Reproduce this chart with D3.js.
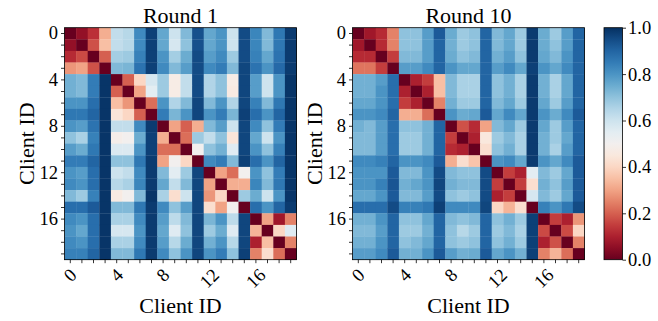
<!DOCTYPE html>
<html>
<head>
<meta charset="utf-8">
<script src="https://cdn.jsdelivr.net/npm/d3@7"></script>
<style>
  body { margin: 0; background: #fff; }
  svg { display: block; }
  svg text { font-family: "Times New Roman", "Liberation Serif", serif; }
</style>
</head>
<body>
<div id="container"></div>
<script>
let clientIds = d3.range(20)
let labelledIds = [0, 4, 8, 12, 16]
let barTicks = [0, 0.2, 0.4, 0.6, 0.8, 1.0]
let titles = ["Round 1", "Round 10"]

let round1 = [
  [0.00,0.06,0.13,0.32,0.62,0.64,0.82,0.97,0.76,0.60,0.72,0.94,0.76,0.80,0.60,0.95,0.83,0.72,0.86,0.98],
  [0.06,0.00,0.18,0.35,0.62,0.64,0.82,0.97,0.76,0.58,0.70,0.94,0.76,0.80,0.60,0.95,0.83,0.72,0.86,0.98],
  [0.12,0.17,0.00,0.20,0.67,0.68,0.84,0.97,0.80,0.67,0.75,0.95,0.78,0.82,0.68,0.95,0.84,0.76,0.87,0.98],
  [0.28,0.30,0.18,0.00,0.72,0.73,0.87,0.97,0.82,0.72,0.78,0.95,0.82,0.85,0.72,0.96,0.87,0.80,0.89,0.98],
  [0.74,0.72,0.85,0.99,0.00,0.20,0.40,0.58,0.68,0.47,0.62,0.95,0.65,0.70,0.47,0.96,0.78,0.60,0.80,0.99],
  [0.74,0.72,0.85,0.99,0.20,0.00,0.30,0.55,0.68,0.47,0.62,0.95,0.65,0.70,0.46,0.96,0.78,0.60,0.80,0.99],
  [0.80,0.80,0.88,0.99,0.35,0.28,0.00,0.22,0.80,0.65,0.72,0.96,0.72,0.80,0.65,0.96,0.84,0.72,0.86,0.99],
  [0.86,0.86,0.90,0.99,0.44,0.40,0.20,0.00,0.85,0.73,0.80,0.96,0.80,0.85,0.73,0.97,0.88,0.80,0.90,0.99],
  [0.80,0.78,0.87,0.99,0.62,0.62,0.82,0.98,0.00,0.30,0.20,0.32,0.72,0.78,0.60,0.96,0.82,0.70,0.85,0.99],
  [0.70,0.66,0.84,0.99,0.48,0.50,0.75,0.97,0.32,0.00,0.22,0.68,0.62,0.70,0.44,0.96,0.76,0.60,0.80,0.99],
  [0.78,0.75,0.86,0.99,0.57,0.57,0.80,0.97,0.22,0.22,0.00,0.50,0.70,0.74,0.56,0.96,0.80,0.70,0.84,0.99],
  [0.85,0.85,0.90,0.99,0.70,0.70,0.86,0.98,0.30,0.50,0.40,0.00,0.82,0.85,0.72,0.97,0.88,0.80,0.90,0.99],
  [0.80,0.78,0.88,0.99,0.60,0.62,0.82,0.98,0.72,0.55,0.68,0.96,0.00,0.30,0.22,0.50,0.80,0.70,0.85,0.99],
  [0.82,0.80,0.88,0.99,0.64,0.66,0.83,0.98,0.76,0.62,0.72,0.96,0.30,0.00,0.32,0.32,0.83,0.72,0.86,0.99],
  [0.72,0.68,0.84,0.99,0.46,0.50,0.72,0.99,0.66,0.42,0.60,0.96,0.28,0.40,0.00,0.68,0.75,0.60,0.80,0.99],
  [0.88,0.88,0.92,0.99,0.72,0.72,0.86,0.98,0.82,0.70,0.78,0.96,0.42,0.30,0.50,0.00,0.88,0.80,0.90,0.98],
  [0.82,0.80,0.88,0.99,0.66,0.66,0.82,0.98,0.78,0.63,0.72,0.96,0.73,0.80,0.63,0.96,0.00,0.30,0.08,0.25],
  [0.80,0.76,0.88,0.99,0.58,0.58,0.80,0.98,0.76,0.56,0.70,0.96,0.68,0.75,0.56,0.96,0.33,0.00,0.40,0.56],
  [0.82,0.80,0.88,0.99,0.66,0.66,0.82,0.98,0.78,0.64,0.75,0.96,0.74,0.80,0.64,0.96,0.10,0.35,0.00,0.25],
  [0.84,0.84,0.90,0.99,0.72,0.72,0.86,0.98,0.82,0.70,0.80,0.96,0.80,0.85,0.70,0.97,0.25,0.42,0.22,0.00]
]

let round10 = [
  [0.00,0.08,0.12,0.25,0.70,0.70,0.78,0.92,0.75,0.68,0.70,0.90,0.72,0.76,0.68,0.98,0.75,0.68,0.78,0.90],
  [0.08,0.00,0.12,0.25,0.70,0.70,0.78,0.90,0.74,0.68,0.70,0.90,0.72,0.76,0.68,0.98,0.75,0.70,0.78,0.90],
  [0.12,0.12,0.00,0.15,0.72,0.72,0.78,0.90,0.75,0.70,0.72,0.90,0.74,0.78,0.70,0.98,0.76,0.72,0.80,0.90],
  [0.23,0.23,0.15,0.00,0.78,0.78,0.82,0.90,0.80,0.76,0.76,0.90,0.78,0.82,0.76,0.97,0.80,0.76,0.82,0.90],
  [0.74,0.74,0.78,0.88,0.00,0.10,0.15,0.35,0.72,0.66,0.66,0.90,0.70,0.74,0.66,0.98,0.74,0.66,0.76,0.90],
  [0.74,0.74,0.80,0.88,0.10,0.00,0.10,0.35,0.72,0.66,0.66,0.90,0.70,0.74,0.66,0.98,0.74,0.66,0.76,0.90],
  [0.76,0.76,0.80,0.88,0.15,0.10,0.00,0.25,0.74,0.68,0.68,0.90,0.72,0.76,0.68,0.98,0.76,0.68,0.78,0.90],
  [0.80,0.80,0.82,0.90,0.32,0.32,0.22,0.00,0.80,0.75,0.76,0.92,0.76,0.82,0.76,0.98,0.80,0.75,0.82,0.92],
  [0.74,0.72,0.78,0.88,0.70,0.70,0.74,0.90,0.00,0.18,0.12,0.30,0.72,0.76,0.68,0.98,0.76,0.68,0.78,0.90],
  [0.72,0.72,0.78,0.88,0.68,0.68,0.74,0.90,0.15,0.00,0.10,0.45,0.68,0.72,0.66,0.98,0.74,0.68,0.76,0.90],
  [0.72,0.72,0.78,0.88,0.68,0.68,0.74,0.90,0.12,0.10,0.00,0.42,0.70,0.74,0.66,0.98,0.74,0.66,0.78,0.90],
  [0.82,0.82,0.84,0.90,0.80,0.80,0.82,0.92,0.32,0.42,0.36,0.00,0.80,0.82,0.76,0.98,0.80,0.76,0.82,0.92],
  [0.80,0.80,0.80,0.92,0.72,0.72,0.80,0.95,0.72,0.70,0.70,0.95,0.00,0.15,0.10,0.55,0.72,0.68,0.76,0.92],
  [0.80,0.80,0.84,0.93,0.74,0.76,0.80,0.96,0.74,0.72,0.72,0.95,0.15,0.00,0.15,0.42,0.74,0.70,0.78,0.92],
  [0.76,0.76,0.80,0.92,0.72,0.72,0.78,0.95,0.70,0.68,0.70,0.95,0.10,0.15,0.00,0.58,0.72,0.68,0.76,0.92],
  [0.88,0.88,0.88,0.95,0.84,0.84,0.86,0.97,0.82,0.82,0.82,0.96,0.40,0.33,0.42,0.00,0.84,0.80,0.86,0.95],
  [0.74,0.74,0.80,0.90,0.70,0.70,0.76,0.90,0.72,0.70,0.72,0.90,0.70,0.74,0.68,0.97,0.00,0.15,0.10,0.28],
  [0.72,0.72,0.78,0.90,0.68,0.68,0.74,0.90,0.70,0.64,0.68,0.90,0.68,0.72,0.66,0.97,0.17,0.00,0.17,0.40],
  [0.74,0.74,0.80,0.90,0.70,0.72,0.76,0.90,0.70,0.68,0.70,0.90,0.70,0.74,0.68,0.97,0.10,0.18,0.00,0.25],
  [0.78,0.78,0.82,0.92,0.74,0.74,0.80,0.92,0.78,0.74,0.75,0.92,0.76,0.80,0.74,0.97,0.25,0.33,0.22,0.00]
]

let W = 658, H = 321
let size = 232
let topY = 27.7
let lefts = [64.5, 352.5]
let font = "Times New Roman, Liberation Serif, serif"
let tickFont = 18.5

let svg = d3.select("#container").append("svg")
    .attr("width", W)
    .attr("height", H)
    .attr("font-family", font)

let color = d3.scaleSequential(d3.interpolateRdBu).domain([0, 1])

let x = d3.scaleBand().domain(clientIds).range([0, size])
let y = d3.scaleBand().domain(clientIds).range([0, size])

function fmt(d) { return labelledIds.includes(d) ? d : "" }

function heatmap(matrix, left, title) {
    let g = svg.append("g").attr("transform", `translate(${left},${topY})`)

    let cells = []
    matrix.forEach((row, i) => row.forEach((v, j) => cells.push({ r: i, c: j, v: v })))

    g.selectAll("rect.cell")
        .data(cells)
        .join("rect")
        .attr("class", "cell")
        .attr("x", d => x(d.c))
        .attr("y", d => y(d.r))
        .attr("width", x.bandwidth() + 0.3)
        .attr("height", y.bandwidth() + 0.3)
        .attr("fill", d => color(d.v))

    g.append("rect")
        .attr("width", size)
        .attr("height", size)
        .attr("fill", "none")
        .attr("stroke", "#000")
        .attr("stroke-width", 0.8)

    let ya = g.append("g")
        .call(d3.axisLeft(y).tickValues(clientIds).tickFormat(fmt).tickSize(3.5).tickPadding(3))
        .attr("font-family", font)
        .attr("font-size", tickFont)
    ya.select(".domain").remove()
    ya.selectAll("line").attr("stroke-width", 0.8)
    ya.selectAll("text").attr("fill", "#000")

    let xa = g.append("g")
        .attr("transform", `translate(0,${size})`)
        .call(d3.axisBottom(x).tickValues(clientIds).tickFormat(fmt).tickSize(3.5))
        .attr("font-family", font)
        .attr("font-size", tickFont)
    xa.select(".domain").remove()
    xa.selectAll("line").attr("stroke-width", 0.8)
    xa.selectAll("text")
        .attr("fill", "#000")
        .attr("text-anchor", "middle")
        .attr("dominant-baseline", "central")
        .attr("dy", null)
        .each(function () {
            let t = d3.select(this)
            let w = this.getComputedTextLength()
            let half = (w + 12) * Math.SQRT1_2 / 2
            t.attr("y", 0).attr("transform", `translate(0,${8 + half}) rotate(-45)`)
        })

    g.append("text")
        .text(title)
        .attr("x", size / 2)
        .attr("y", -5)
        .attr("text-anchor", "middle")
        .attr("font-size", 22)

    g.append("text")
        .text("Client ID")
        .attr("x", size / 2)
        .attr("y", size + 53)
        .attr("text-anchor", "middle")
        .attr("font-size", 22)

    g.append("text")
        .text("Client ID")
        .attr("transform", `translate(-31,${size / 2}) rotate(-90)`)
        .attr("text-anchor", "middle")
        .attr("font-size", 22)
}

heatmap(round1, lefts[0], titles[0])
heatmap(round10, lefts[1], titles[1])

// colorbar
let barX = 604, barW = 18.5
let defs = svg.append("defs")
let grad = defs.append("linearGradient")
    .attr("id", "rdbu")
    .attr("x1", 0).attr("y1", 1).attr("x2", 0).attr("y2", 0)
d3.range(0, 1.0001, 0.05).forEach(t => {
    grad.append("stop").attr("offset", t).attr("stop-color", color(t))
})

let cb = svg.append("g").attr("transform", `translate(${barX},${topY})`)
cb.append("rect")
    .attr("width", barW)
    .attr("height", size)
    .attr("fill", "url(#rdbu)")
    .attr("stroke", "#000")
    .attr("stroke-width", 0.8)

let cScale = d3.scaleLinear().domain([0, 1]).range([size, 0])
let ca = cb.append("g")
    .attr("transform", `translate(${barW},0)`)
    .call(d3.axisRight(cScale).tickValues(barTicks).tickFormat(d3.format(".1f")).tickSize(3.5).tickPadding(2))
    .attr("font-family", font)
    .attr("font-size", tickFont)
ca.select(".domain").remove()
ca.selectAll("line").attr("stroke-width", 0.8)
ca.selectAll("text").attr("fill", "#000")
</script>
</body>
</html>
